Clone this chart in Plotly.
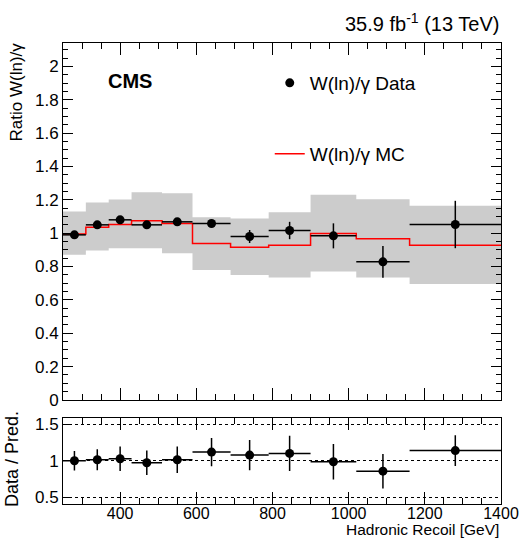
import plotly.graph_objects as go

# ---- data ----
bin_edges = [250, 310, 370, 430, 510, 590, 690, 790, 900, 1020, 1160, 1400]
data_ratio = [0.99, 1.05, 1.08, 1.05, 1.068, 1.058, 0.98, 1.016, 0.984, 0.828, 1.052]
data_err = [0.015, 0.015, 0.015, 0.015, 0.015, 0.015, 0.039, 0.052, 0.075, 0.095, 0.142]
mc_ratio = [0.995, 1.036, 1.052, 1.074, 1.058, 0.938, 0.916, 0.928, 0.998, 0.966, 0.928]
band_hi = [1.13, 1.184, 1.202, 1.246, 1.24, 1.096, 1.088, 1.126, 1.23, 1.204, 1.164]
band_lo = [0.87, 0.896, 0.91, 0.91, 0.88, 0.78, 0.75, 0.734, 0.77, 0.734, 0.696]
pred_ratio = [1.0, 1.014, 1.027, 0.973, 1.014, 1.118, 1.077, 1.10, 0.986, 0.858, 1.139]
pred_err = [0.132, 0.143, 0.166, 0.168, 0.182, 0.193, 0.205, 0.241, 0.243, 0.235, 0.21]

centers = [(a + b) / 2 for a, b in zip(bin_edges[:-1], bin_edges[1:])]
halfw = [(b - a) / 2 for a, b in zip(bin_edges[:-1], bin_edges[1:])]

FONT = "Liberation Sans, Arial, Helvetica, sans-serif"

fig = go.Figure()

# uncertainty band
fig.add_trace(go.Scatter(x=bin_edges, y=band_hi + [band_hi[-1]], mode="lines",
                         line=dict(shape="hv", width=0, color="rgba(0,0,0,0)"),
                         showlegend=False, hoverinfo="skip", xaxis="x", yaxis="y"))
fig.add_trace(go.Scatter(x=bin_edges, y=band_lo + [band_lo[-1]], mode="lines",
                         line=dict(shape="hv", width=0, color="rgba(0,0,0,0)"),
                         fill="tonexty", fillcolor="rgb(204,204,204)",
                         showlegend=False, hoverinfo="skip", xaxis="x", yaxis="y"))

# MC step
fig.add_trace(go.Scatter(x=bin_edges, y=mc_ratio + [mc_ratio[-1]], mode="lines",
                         line=dict(shape="hv", width=1.5, color="#ff0000"),
                         name="W(ln)/γ MC", legend="legend2", xaxis="x", yaxis="y"))

# data
fig.add_trace(go.Scatter(x=centers, y=data_ratio, mode="markers",
                         marker=dict(color="black", size=9),
                         error_y=dict(type="data", array=data_err, width=0, thickness=1.5, color="black"),
                         error_x=dict(type="data", array=halfw, width=0, thickness=1.5, color="black"),
                         name="W(ln)/γ Data", legend="legend", xaxis="x", yaxis="y"))

# ratio panel
fig.add_trace(go.Scatter(x=centers, y=pred_ratio, mode="markers",
                         marker=dict(color="black", size=9),
                         error_y=dict(type="data", array=pred_err, width=0, thickness=1.5, color="black"),
                         error_x=dict(type="data", array=halfw, width=0, thickness=1.5, color="black"),
                         showlegend=False, xaxis="x2", yaxis="y2"))

W, H = 531, 540
ml, mr, mt, mb = 63, 21, 43, 36
ph = H - mt - mb
pw = W - ml - mr
top_dom = [(504 - 400) / ph, 1]
bot_dom = [0, (504 - 417.5) / ph]

def py(p):
    return (H - mb - p) / ph

def px(p):
    return (p - ml) / pw

common_x = dict(range=[250, 1400], dtick=200, tick0=0, ticks="inside", tickcolor="black",
                showline=True, linecolor="black", linewidth=1, mirror="allticks",
                showgrid=False, zeroline=False,
                minor=dict(ticks="inside", dtick=50, tick0=0, ticklen=6, tickcolor="black", showgrid=False))

fig.update_layout(
    width=W, height=H,
    margin=dict(l=ml, r=mr, t=mt, b=mb),
    paper_bgcolor="white", plot_bgcolor="white",
    font=dict(family=FONT, color="black", size=17),
    xaxis=dict(anchor="y", domain=[0, 1], showticklabels=False, ticklen=12, **common_x),
    yaxis=dict(anchor="x", domain=top_dom, range=[0, 2.14], dtick=0.2, tick0=0,
               ticks="inside", ticklen=10, tickcolor="black", showline=True, linecolor="black",
               mirror="allticks", showgrid=False, zeroline=False,
               tickfont=dict(size=17),
               minor=dict(ticks="inside", dtick=0.05, tick0=0, ticklen=5, tickcolor="black", showgrid=False)),
    xaxis2=dict(anchor="y2", domain=[0, 1], showticklabels=True, ticklen=12,
                ticklabelstandoff=-5, tickfont=dict(size=16), **common_x),
    yaxis2=dict(anchor="x2", domain=bot_dom, range=[0.41, 1.59], tickvals=[0.5, 1, 1.5],
                ticktext=["0.5", "1", "1.5"],
                ticks="inside", ticklen=8, tickcolor="black", showline=True, linecolor="black",
                mirror=True, showgrid=True, gridcolor="black", gridwidth=1, griddash="dot",
                zeroline=False, tickfont=dict(size=17)),
    legend=dict(x=px(274), y=py(83), xanchor="left", yanchor="middle",
                bgcolor="rgba(0,0,0,0)", font=dict(size=19, family=FONT)),
    legend2=dict(x=px(274), y=py(154), xanchor="left", yanchor="middle",
                 bgcolor="rgba(0,0,0,0)", font=dict(size=19, family=FONT)),
    annotations=[
        dict(text="<b>CMS</b>", x=px(107), y=py(81), xref="paper", yref="paper",
             xanchor="left", yanchor="middle", showarrow=False, font=dict(size=20)),
        dict(text="35.9 fb<sup>-1</sup> (13 TeV)", x=1, y=py(37), xref="paper", yref="paper",
             xanchor="right", yanchor="bottom", showarrow=False, font=dict(size=20)),
        dict(text="Ratio W(ln)/γ", textangle=-90, x=px(16), y=py(40), xref="paper", yref="paper",
             xanchor="center", yanchor="top", showarrow=False, font=dict(size=17)),
        dict(text="Data / Pred.", textangle=-90, x=px(11), y=py(459), xref="paper", yref="paper",
             xanchor="center", yanchor="middle", showarrow=False, font=dict(size=18)),
        dict(text="Hadronic Recoil [GeV]", x=1, y=py(540), xref="paper", yref="paper",
             xanchor="right", yanchor="bottom", showarrow=False, font=dict(size=15.5)),
    ],
)

fig.write_html("out.html", config={"displayModeBar": False},
               post_script="document.body.style.margin='0';document.body.style.overflow='hidden';")
